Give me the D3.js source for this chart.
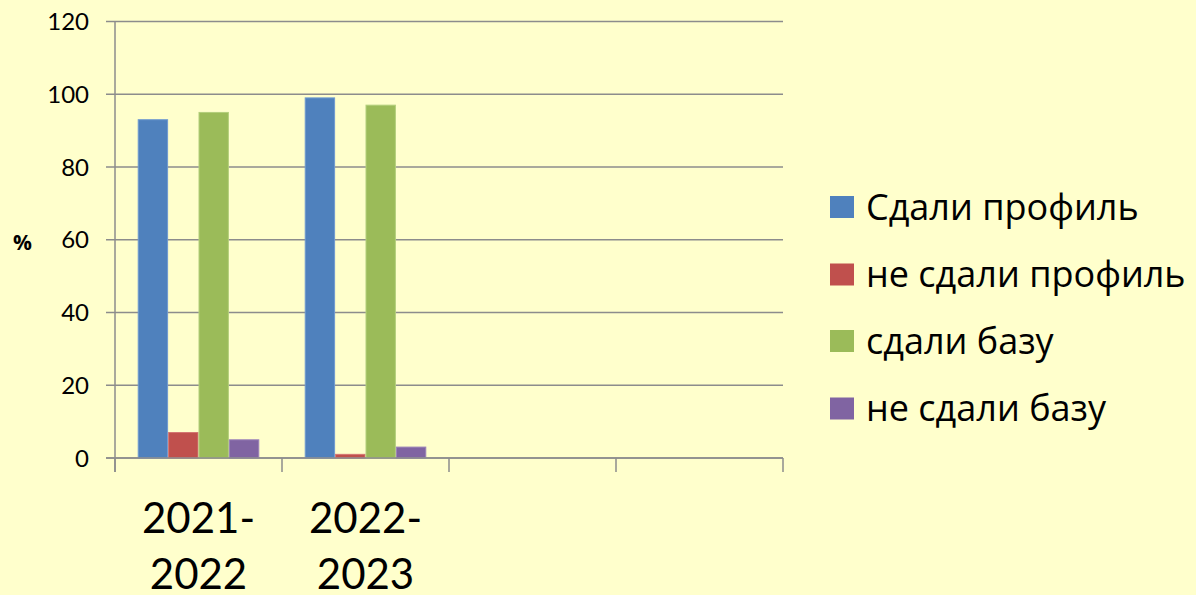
<!DOCTYPE html>
<html>
<head>
<meta charset="utf-8">
<script src="https://cdn.jsdelivr.net/npm/d3@7"></script>
<style>
  html, body { margin: 0; padding: 0; background: #FFFFCC; }
  svg { display: block; }
</style>
</head>
<body>
<svg id="chart" width="1196" height="595"></svg>
<script>
const categories = ["2021-2022", "2022-2023", "", ""];
const seriesNames = ["Сдали профиль", "не сдали профиль", "сдали базу", "не сдали базу"];
const seriesColors = ["#4F81BD", "#C0504D", "#9BBB59", "#8064A2"];
const seriesStroke = ["#6F9AD0", "#D47572", "#B3CF7C", "#9A82B8"];
const sdaliProfil = [93, 99, null, null];
const neSdaliProfil = [7, 1, null, null];
const sdaliBazu = [95, 97, null, null];
const neSdaliBazu = [5, 3, null, null];
const yTicks = [0, 20, 40, 60, 80, 100, 120];
const yLabel = "%";

const seriesValues = [sdaliProfil, neSdaliProfil, sdaliBazu, neSdaliBazu];

(function () {
const svg = d3.select("#chart");
const W = 1196, H = 595;
svg.append("rect").attr("width", W).attr("height", H).attr("fill", "#FFFFCC");

const pLeft = 115, pRight = 783, pTop = 21.5, pBottom = 458;
const y = d3.scaleLinear().domain([0, 120]).range([pBottom, pTop]);
const x = d3.scaleBand().domain(d3.range(categories.length)).range([pLeft, pRight])
  .paddingInner(0.272).paddingOuter(0.136);
const xs = d3.scaleBand().domain(d3.range(seriesNames.length)).range([0, x.bandwidth()]);
const step = (pRight - pLeft) / categories.length;

const gridColor = "#8C8C8C";
svg.append("g").selectAll("line").data(yTicks).join("line")
  .attr("x1", pLeft - 9).attr("x2", pRight)
  .attr("y1", d => y(d)).attr("y2", d => y(d))
  .attr("stroke", gridColor).attr("stroke-width", 1.5);

const bars = svg.append("g");
seriesValues.forEach((vals, s) => {
  bars.selectAll(null).data(vals.map((v, i) => ({v, i})).filter(d => d.v != null)).join("rect")
    .attr("x", d => x(d.i) + xs(s) + 0.5)
    .attr("y", d => y(d.v))
    .attr("width", xs.bandwidth() - 1)
    .attr("height", d => y(0) - y(d.v))
    .attr("fill", seriesColors[s])
    .attr("stroke", seriesStroke[s]).attr("stroke-width", 1);
});

svg.append("line").attr("x1", pLeft).attr("x2", pLeft).attr("y1", pTop).attr("y2", pBottom + 14)
  .attr("stroke", gridColor).attr("stroke-width", 1.5);
svg.append("line").attr("x1", pLeft - 9).attr("x2", pRight).attr("y1", pBottom).attr("y2", pBottom)
  .attr("stroke", gridColor).attr("stroke-width", 1.5);
const bounds = d3.range(categories.length + 1).map(i => pLeft + i * step);
svg.append("g").selectAll("line").data(bounds).join("line")
  .attr("x1", d => d).attr("x2", d => d).attr("y1", pBottom).attr("y2", pBottom + 14)
  .attr("stroke", gridColor).attr("stroke-width", 1.5);

svg.append("g").selectAll("text").data(yTicks).join("text")
  .attr("x", 89).attr("y", d => y(d)).attr("dy", "0.36em")
  .attr("text-anchor", "end")
  .attr("font-family", "Lato, 'Open Sans', sans-serif").attr("font-size", 24).attr("fill", "#000")
  .text(d => d);

svg.append("text").attr("x", 22.5).attr("y", 243).attr("dy", "0.35em")
  .attr("text-anchor", "middle")
  .attr("font-family", "'Open Sans', sans-serif").attr("font-weight", "bold").attr("font-size", 21)
  .text(yLabel);

const xl = svg.append("g");
categories.forEach((c, i) => {
  if (!c) return;
  const parts = c.split("-");
  const lines = [parts[0] + "-", parts[1]];
  const t = xl.append("text")
    .attr("text-anchor", "middle")
    .attr("font-family", "Lato, 'Open Sans', sans-serif").attr("font-size", 42).attr("fill", "#000");
  lines.forEach((ln, k) => {
    t.append("tspan").attr("x", x(i) + x.bandwidth() / 2).attr("y", 533 + k * 56).text(ln);
  });
});

const leg = svg.append("g");
const legY = [207, 274.5, 341, 408.5];
seriesNames.forEach((n, s) => {
  leg.append("rect").attr("x", 830).attr("y", legY[s] - 11).attr("width", 24).attr("height", 22)
    .attr("fill", seriesColors[s]);
  leg.append("text").attr("x", 866).attr("y", legY[s]).attr("dy", "0.36em")
    .attr("font-family", "'Open Sans', sans-serif").attr("font-size", 36).attr("fill", "#000")
    .text(n);
});
})();
</script>
</body>
</html>
